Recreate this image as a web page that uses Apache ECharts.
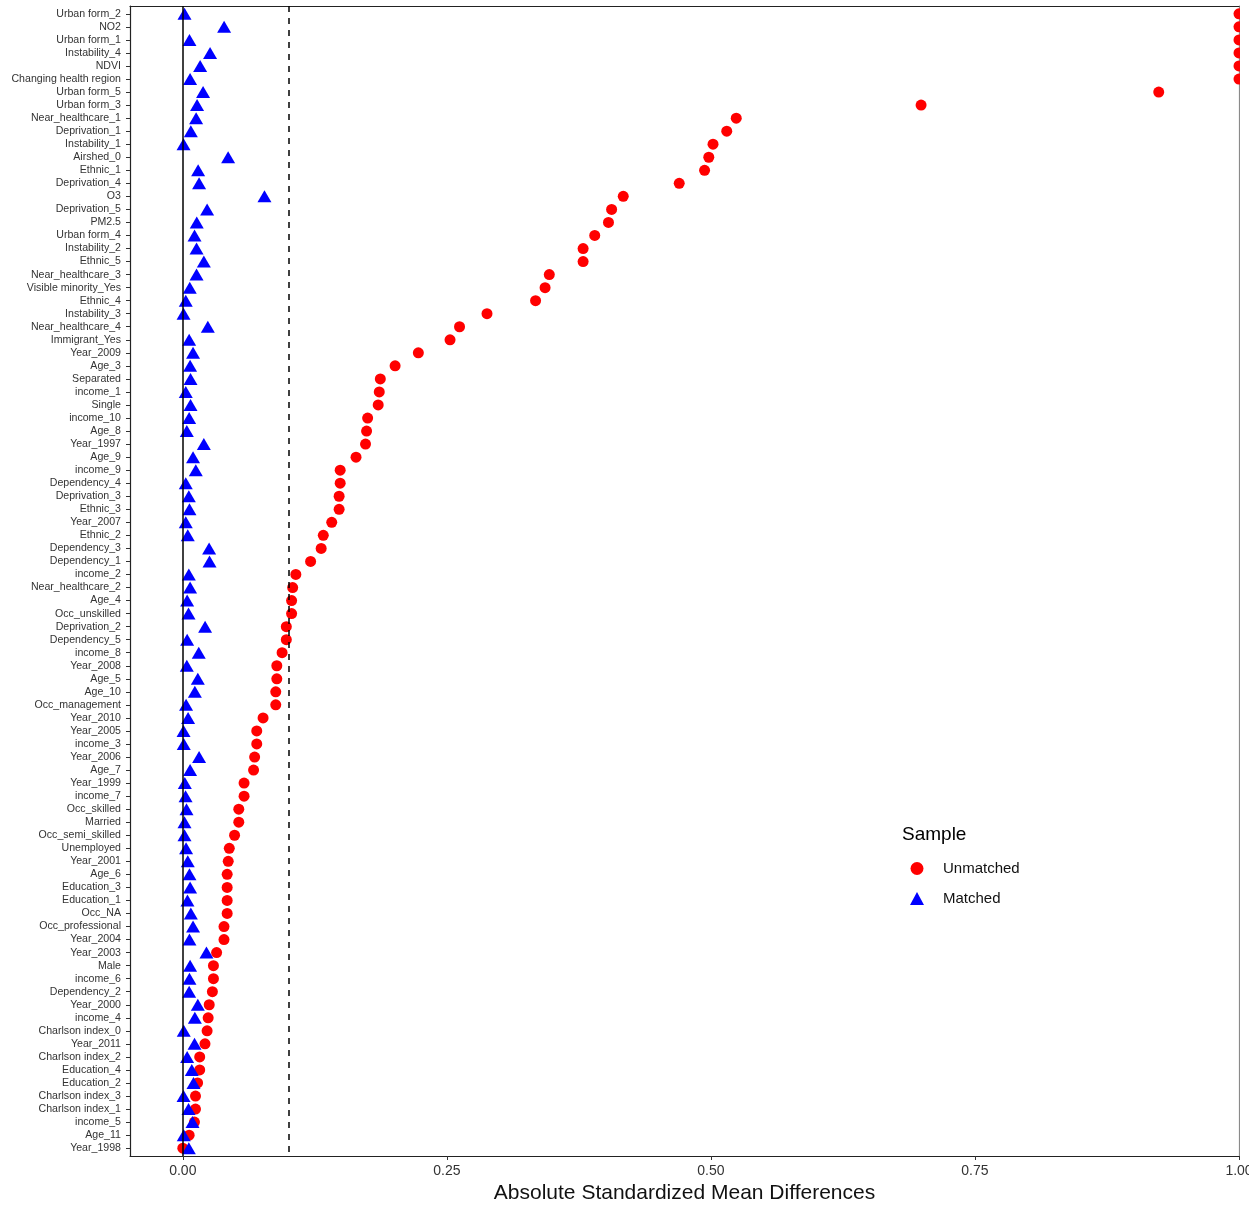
<!DOCTYPE html>
<html>
<head>
<meta charset="utf-8">
<title>Covariate balance</title>
<script src="https://cdn.jsdelivr.net/npm/echarts@6/dist/echarts.min.js"></script>
<style>
  html, body { margin: 0; padding: 0; background: #ffffff; }
  #chart { width: 1260px; height: 1207px; }
</style>
</head>
<body>
<div id="chart"></div>
<script>
// Covariates, listed top to bottom
const covariates = [
  'Urban form_2', 'NO2', 'Urban form_1', 'Instability_4', 'NDVI', 'Changing health region',
  'Urban form_5', 'Urban form_3', 'Near_healthcare_1', 'Deprivation_1', 'Instability_1',
  'Airshed_0', 'Ethnic_1', 'Deprivation_4', 'O3', 'Deprivation_5', 'PM2.5', 'Urban form_4',
  'Instability_2', 'Ethnic_5', 'Near_healthcare_3', 'Visible minority_Yes', 'Ethnic_4',
  'Instability_3', 'Near_healthcare_4', 'Immigrant_Yes', 'Year_2009', 'Age_3', 'Separated',
  'income_1', 'Single', 'income_10', 'Age_8', 'Year_1997', 'Age_9', 'income_9',
  'Dependency_4', 'Deprivation_3', 'Ethnic_3', 'Year_2007', 'Ethnic_2', 'Dependency_3',
  'Dependency_1', 'income_2', 'Near_healthcare_2', 'Age_4', 'Occ_unskilled', 'Deprivation_2',
  'Dependency_5', 'income_8', 'Year_2008', 'Age_5', 'Age_10', 'Occ_management', 'Year_2010',
  'Year_2005', 'income_3', 'Year_2006', 'Age_7', 'Year_1999', 'income_7', 'Occ_skilled',
  'Married', 'Occ_semi_skilled', 'Unemployed', 'Year_2001', 'Age_6', 'Education_3',
  'Education_1', 'Occ_NA', 'Occ_professional', 'Year_2004', 'Year_2003', 'Male', 'income_6',
  'Dependency_2', 'Year_2000', 'income_4', 'Charlson index_0', 'Year_2011', 'Charlson index_2',
  'Education_4', 'Education_2', 'Charlson index_3', 'Charlson index_1', 'income_5', 'Age_11',
  'Year_1998'
];

// Absolute standardized mean differences before matching
const unmatched = [
  1.000, 1.000, 1.000, 1.000, 1.000, 1.000,
  0.924, 0.699, 0.524, 0.515, 0.502,
  0.498, 0.494, 0.470, 0.417, 0.406, 0.403, 0.390,
  0.379, 0.379, 0.347, 0.343, 0.334,
  0.288, 0.262, 0.253, 0.223, 0.201, 0.187,
  0.186, 0.185, 0.175, 0.174, 0.173, 0.164, 0.149,
  0.149, 0.148, 0.148, 0.141, 0.133, 0.131,
  0.121, 0.107, 0.104, 0.103, 0.103, 0.098,
  0.098, 0.094, 0.089, 0.089, 0.088, 0.088, 0.076,
  0.070, 0.070, 0.068, 0.067, 0.058, 0.058, 0.053,
  0.053, 0.049, 0.044, 0.043, 0.042, 0.042,
  0.042, 0.042, 0.039, 0.039, 0.032, 0.029, 0.029,
  0.028, 0.025, 0.024, 0.023, 0.021, 0.016,
  0.016, 0.014, 0.012, 0.012, 0.011, 0.006,
  0.000
];

// Absolute standardized mean differences after matching
const matched = [
  0.0016, 0.0391, 0.0063, 0.0258, 0.0164, 0.0069,
  0.0192, 0.0135, 0.0126, 0.0076, 0.0007,
  0.0429, 0.0145, 0.0154, 0.0773, 0.0230, 0.0132, 0.0111,
  0.0130, 0.0199, 0.0130, 0.0066, 0.0028,
  0.0007, 0.0237, 0.0060, 0.0097, 0.0069, 0.0073,
  0.0028, 0.0073, 0.0060, 0.0038, 0.0199, 0.0097, 0.0123,
  0.0028, 0.0057, 0.0063, 0.0028, 0.0047, 0.0249,
  0.0253, 0.0057, 0.0069, 0.0041, 0.0054, 0.0211,
  0.0041, 0.0151, 0.0038, 0.0142, 0.0114, 0.0031, 0.0050,
  0.0007, 0.0009, 0.0154, 0.0069, 0.0019, 0.0026, 0.0035,
  0.0016, 0.0016, 0.0031, 0.0047, 0.0063, 0.0069,
  0.0044, 0.0076, 0.0097, 0.0063, 0.0224, 0.0069, 0.0063,
  0.0060, 0.0142, 0.0114, 0.0009, 0.0111, 0.0041,
  0.0085, 0.0101, 0.0007, 0.0054, 0.0092, 0.0009,
  0.0057
];

// x-axis tick positions and the reference lines (zero and 0.1 threshold)
const xTicks = [0, 0.25, 0.5, 0.75, 1.0];
const zeroLine = 0;
const thresholdLine = 0.1;

const FONT = "'Liberation Sans', Arial, sans-serif";

// Rows are placed on a numeric scale (row index), padded by 0.6 of a row at each end
const rowIdx = covariates.map((_, i) => i);
const ROW_PAD = 0.6;

const chart = echarts.init(document.getElementById('chart'), null, { renderer: 'canvas' });

const pairs = (vals) => vals.map((v, i) => [v, rowIdx[i]]);

chart.setOption({
  backgroundColor: '#ffffff',
  animation: false,
  textStyle: { fontFamily: FONT },
  title: {
    text: 'Sample',
    left: 902,
    top: 825,
    padding: 0,
    textStyle: { fontFamily: FONT, fontSize: 19, fontWeight: 'normal', color: '#000000' }
  },
  legend: {
    data: ['Unmatched', 'Matched'],
    orient: 'vertical',
    left: 910,
    top: 861,
    padding: 0,
    itemWidth: 14,
    itemHeight: 13,
    itemGap: 15,
    selectedMode: false,
    textStyle: {
      fontFamily: FONT, fontSize: 15, lineHeight: 15, color: '#111111',
      padding: [0, 0, 0, 14]
    }
  },
  grid: {
    left: 130, right: 21, top: 6, bottom: 51,
    containLabel: false,
    outerBoundsMode: 'none'
  },
  xAxis: [
    {
      type: 'value',
      min: -0.05,
      max: 1.0,
      position: 'bottom',
      name: 'Absolute Standardized Mean Differences',
      nameLocation: 'middle',
      nameGap: 24,
      nameTextStyle: { fontFamily: FONT, fontSize: 21, color: '#111111' },
      axisLine: { show: true, onZero: false, lineStyle: { color: '#222222', width: 1.2 } },
      axisTick: { show: true, length: 4, customValues: xTicks, lineStyle: { color: '#333333' } },
      axisLabel: {
        show: true,
        margin: 8,
        customValues: xTicks,
        formatter: (v) => v.toFixed(2),
        fontFamily: FONT,
        fontSize: 14,
        color: '#333333'
      },
      splitLine: { show: false }
    },
    {
      type: 'value',
      min: -0.05,
      max: 1.0,
      position: 'top',
      axisLine: { show: true, onZero: false, lineStyle: { color: '#222222', width: 1.2 } },
      axisTick: { show: false },
      axisLabel: { show: false },
      splitLine: { show: false }
    }
  ],
  yAxis: [
    {
      type: 'value',
      min: -ROW_PAD,
      max: covariates.length - 1 + ROW_PAD,
      inverse: true,
      position: 'left',
      axisLine: { show: true, onZero: false, lineStyle: { color: '#222222', width: 1.2 } },
      axisTick: { show: true, length: 4, customValues: rowIdx, lineStyle: { color: '#333333' } },
      axisLabel: {
        show: true,
        margin: 9,
        customValues: rowIdx,
        formatter: (v) => covariates[Math.round(v)],
        fontFamily: FONT,
        fontSize: 10.6,
        color: '#333333'
      },
      splitLine: { show: false }
    },
    {
      type: 'value',
      position: 'right',
      axisLine: { show: true, onZero: false, lineStyle: { color: '#8a8a8a', width: 1.2 } },
      axisTick: { show: false },
      axisLabel: { show: false },
      splitLine: { show: false }
    }
  ],
  series: [
    {
      name: 'Reference',
      type: 'scatter',
      z: 1,
      data: [],
      markLine: {
        silent: true,
        symbol: 'none',
        label: { show: false },
        animation: false,
        data: [
          { xAxis: zeroLine, lineStyle: { color: '#000000', width: 1.5, type: 'solid' } },
          { xAxis: thresholdLine, lineStyle: { color: '#000000', width: 1.5, type: [6, 6] } }
        ]
      }
    },
    {
      name: 'Unmatched',
      type: 'scatter',
      z: 3,
      clip: true,
      symbol: 'circle',
      symbolSize: 11,
      itemStyle: { color: '#ff0000', opacity: 1 },
      data: pairs(unmatched)
    },
    {
      name: 'Matched',
      type: 'scatter',
      z: 4,
      clip: true,
      symbol: 'triangle',
      symbolSize: [14, 12],
      itemStyle: { color: '#0000ff', opacity: 1 },
      data: pairs(matched)
    }
  ],
  graphic: [
    // blank margin to the right of the panel, over marks that run past it
    {
      type: 'rect',
      left: 1240,
      top: 0,
      z: 100,
      silent: true,
      shape: { width: 20, height: 1160 },
      style: { fill: '#ffffff' }
    },
    {
      type: 'rect',
      left: 1249,
      top: 0,
      z: 100,
      silent: true,
      shape: { width: 11, height: 1207 },
      style: { fill: '#ffffff' }
    }
  ]
});
</script>
</body>
</html>
